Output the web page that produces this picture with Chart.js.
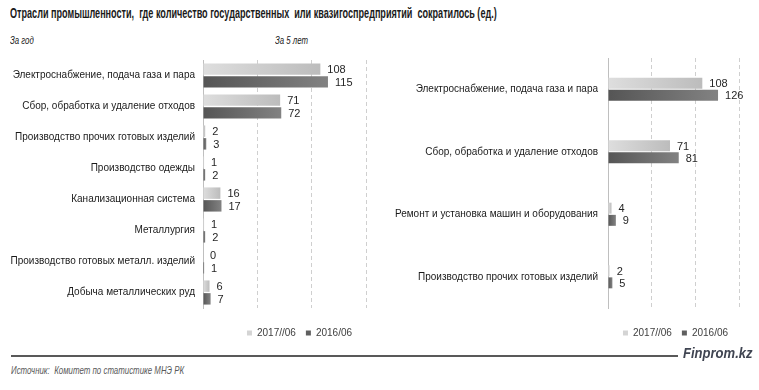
<!DOCTYPE html>
<html>
<head>
<meta charset="utf-8">
<script src="https://cdn.jsdelivr.net/npm/chart.js@4/dist/chart.umd.min.js"></script>
<style>
  html, body { margin: 0; padding: 0; background: #fff; }
  body { width: 759px; height: 390px; position: relative; overflow: hidden; font-family: "Liberation Sans", Arial, sans-serif; }
  .abs { position: absolute; white-space: nowrap; transform-origin: 0 0; }
  #title { left: 10px; top: 5px; font-weight: bold; font-size: 14px; color: #1a1a1a; transform: scaleX(0.648); }
  .sub { top: 34px; font-style: italic; font-size: 11.5px; color: #1a1a1a; transform: scaleX(0.68); }
  #line { left: 11px; top: 355px; width: 667px; height: 2px; background: #595959; }
  #brand { left: 683px; top: 345px; font-weight: bold; font-style: italic; font-size: 14.5px; color: #404552; transform: scaleX(0.9); }
  #source { left: 11px; top: 364px; font-style: italic; font-size: 10.5px; color: #595959; transform: scaleX(0.75); }
  #wrapL { left: 0; top: 50px; width: 380px; height: 300px; }
  #wrapR { left: 380px; top: 50px; width: 379px; height: 300px; }
</style>
</head>
<body>
<div id="title" class="abs">Отрасли промышленности,&nbsp; где количество государственных&nbsp; или квазигоспредприятий&nbsp; сократилось (ед.)</div>
<div class="abs sub" style="left:10px">За год</div>
<div class="abs sub" style="left:275px">За 5 лет</div>
<div id="wrapL" class="abs"><canvas id="cL" width="380" height="300"></canvas></div>
<div id="wrapR" class="abs"><canvas id="cR" width="379" height="300"></canvas></div>
<div id="line" class="abs"></div>
<div id="brand" class="abs">Finprom.kz</div>
<div id="source" class="abs">Источник:&nbsp; Комитет по статистике МНЭ РК</div>

<script>
// ---- Data ----
const seriesNames = ["2017//06", "2016/06"];

const yearCategories = [
  "Электроснабжение, подача газа и пара",
  "Сбор, обработка и удаление отходов",
  "Производство прочих готовых изделий",
  "Производство одежды",
  "Канализационная система",
  "Металлургия",
  "Производство готовых металл. изделий",
  "Добыча металлических руд"
];
const year2017 = [108, 71, 2, 1, 16, 1, 0, 6];
const year2016 = [115, 72, 3, 2, 17, 2, 1, 7];

const fiveYearCategories = [
  "Электроснабжение, подача газа и пара",
  "Сбор, обработка и удаление отходов",
  "Ремонт и установка машин и оборудования",
  "Производство прочих готовых изделий"
];
const five2017 = [108, 71, 4, 2];
const five2016 = [126, 81, 9, 5];

const axisMax = 150;
const axisStep = 50;

// ---- Styles ----
const LIGHT = ["#dedede", "#bcbcbc"];
const DARK = ["#555555", "#828282"];
const LEGEND_LIGHT = "#d4d4d4";
const LEGEND_DARK = "#5f5f5f";

function grad(c0, c1) {
  return (ctx) => {
    const chart = ctx.chart;
    const sc = chart.scales && chart.scales.x;
    if (!chart.chartArea || !sc || ctx.raw === undefined) return c1;
    const x0 = sc.getPixelForValue(0);
    const x1 = sc.getPixelForValue(ctx.raw);
    if (x1 - x0 < 2) return c0;
    const g = chart.ctx.createLinearGradient(x0, 0, x1, 0);
    g.addColorStop(0, c0);
    g.addColorStop(1, c1);
    return g;
  };
}

const valueLabels = {
  id: 'valueLabels',
  afterDatasetsDraw(chart) {
    const ctx = chart.ctx;
    ctx.save();
    ctx.font = '11px "Liberation Sans", Arial, sans-serif';
    ctx.fillStyle = '#262626';
    ctx.textAlign = 'left';
    ctx.textBaseline = 'middle';
    chart.data.datasets.forEach((ds, di) => {
      const meta = chart.getDatasetMeta(di);
      meta.data.forEach((el, i) => {
        ctx.fillText(String(ds.data[i]), el.x + 7, el.y + 1);
      });
    });
    ctx.restore();
  }
};

const legendShift = {
  id: 'legendShift',
  afterLayout(chart, args, opts) {
    const lg = chart.legend;
    if (!lg) return;
    const dx = opts.dx || 0;
    const dy = opts.dy || 0;
    lg.left += dx; lg.right += dx;
    lg.top += dy; lg.bottom += dy;
  }
};

function makeChart(id, cats, d17, d16, cfg) {
  return new Chart(document.getElementById(id), {
    type: 'bar',
    data: {
      labels: cats,
      datasets: [
        { label: seriesNames[0], data: d17, backgroundColor: grad(LIGHT[0], LIGHT[1]), borderWidth: 0,
          categoryPercentage: cfg.catP, barPercentage: cfg.barP },
        { label: seriesNames[1], data: d16, backgroundColor: grad(DARK[0], DARK[1]), borderWidth: 0,
          categoryPercentage: cfg.catP, barPercentage: cfg.barP }
      ]
    },
    options: {
      indexAxis: 'y',
      responsive: false,
      animation: false,
      events: [],
      layout: { padding: { left: 0, right: cfg.padRight, top: cfg.padTop, bottom: cfg.padBottom } },
      scales: {
        x: {
          min: 0, max: axisMax,
          ticks: { display: false, stepSize: axisStep },
          grid: { display: true, color: (c) => c.tick && c.tick.value === 0 ? 'rgba(0,0,0,0)' : '#cfcfcf',
                  lineWidth: 1, drawTicks: false },
          border: { display: false, dash: [4, 3] }
        },
        y: {
          afterFit: (axis) => { axis.width = cfg.axisWidth; axis.paddingTop = 0; axis.paddingBottom = 0; },
          ticks: { color: '#1a1a1a', font: { family: '"Liberation Sans", Arial, sans-serif', size: 10 }, padding: cfg.tickPad, autoSkip: false },
          grid: { display: false, drawTicks: false },
          border: { display: true, color: '#bfbfbf', width: 1 }
        }
      },
      plugins: {
        tooltip: { enabled: false },
        legend: {
          position: 'bottom',
          fullSize: false,
          labels: {
            boxWidth: 5, boxHeight: 5, padding: 10,
            color: '#404040',
            font: { family: '"Liberation Sans", Arial, sans-serif', size: 10 },
            generateLabels: (chart) => seriesNames.map((n, i) => ({
              text: n, fillStyle: i === 0 ? LEGEND_LIGHT : LEGEND_DARK, strokeStyle: 'rgba(0,0,0,0)',
              lineWidth: 0, hidden: false, datasetIndex: i, fontColor: '#404040'
            }))
          }
        },
        legendShift: { dx: cfg.legendDx, dy: cfg.legendDy }
      }
    },
    plugins: [valueLabels, legendShift]
  });
}

const left = makeChart('cL', yearCategories, year2017, year2016,
  { catP: 0.82, barP: 0.9, axisWidth: 203, tickPad: 8, padRight: 14, padTop: 10, padBottom: 12, legendDx: 15, legendDy: 10 });
const right = makeChart('cR', fiveYearCategories, five2017, five2016,
  { catP: 0.39, barP: 0.9, axisWidth: 228, tickPad: 10, padRight: 20, padTop: 8, padBottom: 12, legendDx: 2, legendDy: 10 });
</script>
</body>
</html>
